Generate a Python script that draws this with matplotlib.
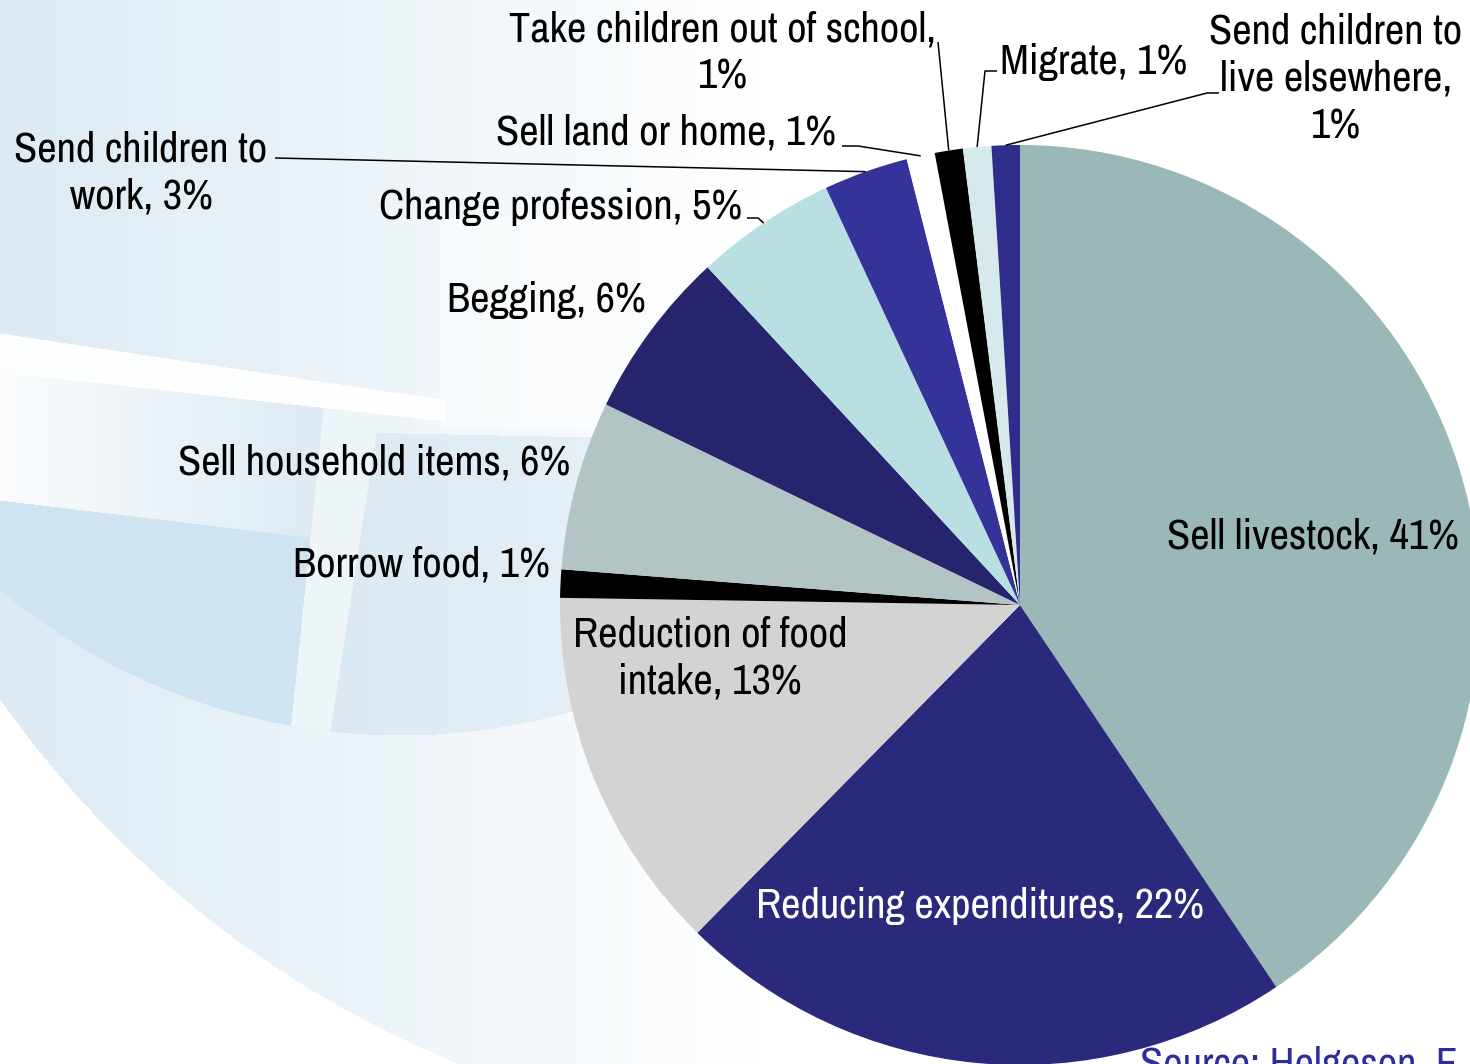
"""Household coping strategies – pie with outside labels and leader lines."""

import numpy as np
import matplotlib.pyplot as plt

W, H = 1470, 1064  # canvas in pixels (dpi 100)

# Coping strategy shares (%), clockwise from 12 o'clock
strategies = [
    "Sell livestock", "Reducing expenditures", "Reduction of food\nintake",
    "Borrow food", "Sell household items", "Begging", "Change profession",
    "Send children to\nwork", "Sell land or home",
    "Take children out of school", "Migrate", "Send children to\nlive elsewhere",
]
shares = [41, 22, 13, 1, 6, 6, 5, 3, 1, 1, 1, 1]
slice_colors = [
    "#9bb8b9", "#2a297b", "#d3d3d3", "#000000", "#b3c4c4", "#25246c",
    "#b8dfe2", "#343399", "#ffffff", "#000000", "#d6eaed", "#2e2d8c",
]
# separator between name and value in each label
separators = [", "] * 9 + [",\n", ", ", ",\n"]

# ---- layout (pixel coords, y down) ----
CX, CY, R = 1020, 605, 460
label_xy = [
    (1313, 537), (980, 906), (710, 658), (550, 565), (570, 462), (646, 300),
    (742, 207), (141, 173), (836, 133), (723, 53), (1000, 62), (1336, 79),
]
label_ha = ["center", "center", "center", "right", "right", "right",
            "right", "center", "right", "center", "left", "center"]
label_color = ["black", "white"] + ["black"] * 10
# leader line elbows, ending at the slice's outer edge
leaders = {
    6: [(747, 218), (758, 218)],
    7: [(275, 158)],
    8: [(842, 146), (858, 146)],
    9: [(938, 42)],
    10: [(997, 71), (985, 71)],
    11: [(1219, 93), (1207, 93)],
}

FONT = ["Archivo Narrow", "DejaVu Sans"]
FS = 30.5


def backdrop():
    """Soft blue globe-and-tiles decoration behind the chart."""
    yy, xx = np.mgrid[0:H, 0:W].astype(float)
    t = np.zeros((H, W))
    globe = (xx - 850) ** 2 + (yy - 100) ** 2 < 1040 ** 2
    fade = np.clip(1 - xx / 760, 0, 1)
    t[globe] = 0.62 * fade[globe]

    inner = (xx - 400) ** 2 + (yy - 111) ** 2 < 624 ** 2
    stripe_top = 333 + 0.15 * xx
    stripe_bot = 372 + 0.11 * xx
    stripe = (yy > stripe_top) & (yy < stripe_bot) & (xx < 445)
    t[stripe] *= 0.05
    lite = (xx > 440) & (yy > 215) & (yy < 428) & (xx < 700)
    t[lite] *= 0.55

    gap_l = 320 - (yy - 440) * 0.103
    gap_r = 375 - (yy - 440) * 0.155
    below = (yy > stripe_bot) & inner
    row3 = below & (yy > 500 + 0.12 * xx) & (xx < gap_l)
    row2 = below & ~row3 & (xx < gap_l)
    gap = below & (xx >= gap_l) & (xx <= gap_r)
    right = inner & (xx > gap_r) & (yy > 425 + 0.02 * xx) & (xx < 640)
    t[row2] = 0.08 + 0.5 * np.clip(xx[row2] / 300, 0, 1)
    t[row3] = 0.84
    t[gap] = 0.3
    t[right] = 0.66 * np.clip(1 - (xx[right] - 330) / 900, 0, 1)

    base = np.array([0.78, 0.87, 0.93])
    return 1 - t[..., None] * (1 - base)


fig = plt.figure(figsize=(W / 100, H / 100), dpi=100)
ax = fig.add_axes([0, 0, 1, 1])
ax.imshow(backdrop(), extent=(0, W, 0, H), origin="upper", zorder=0,
          interpolation="bilinear")

ax.pie(shares, colors=slice_colors, startangle=90, counterclock=False,
       center=(CX, H - CY), radius=R, frame=True,
       wedgeprops=dict(linewidth=0, zorder=2))

# outer-edge midpoint of every slice, for leader lines
total = sum(shares)
mid = (np.cumsum(shares) - np.array(shares) / 2) / total * 2 * np.pi
edge = [(CX + R * np.sin(a), CY - R * np.cos(a)) for a in mid]

for i, (name, val) in enumerate(zip(strategies, shares)):
    x, y = label_xy[i]
    ax.text(x, H - y, f"{name}{separators[i]}{val}%", ha=label_ha[i],
            va="center", multialignment="center", fontsize=FS,
            family=FONT, color=label_color[i], zorder=4, linespacing=1.3)
    if i in leaders:
        pts = leaders[i] + [edge[i]]
        ax.plot([p[0] for p in pts], [H - p[1] for p in pts],
                color="black", lw=1.1, zorder=3, solid_capstyle="butt")

ax.text(1140, H - 1046, "Source: Helgeson, F", ha="left", va="top",
        fontsize=FS, family=FONT, color="#2e2e9a", zorder=4)

ax.set_xlim(0, W)
ax.set_ylim(0, H)
ax.set_aspect("equal")
ax.set_axis_off()

fig.savefig("out.png", dpi=100)
